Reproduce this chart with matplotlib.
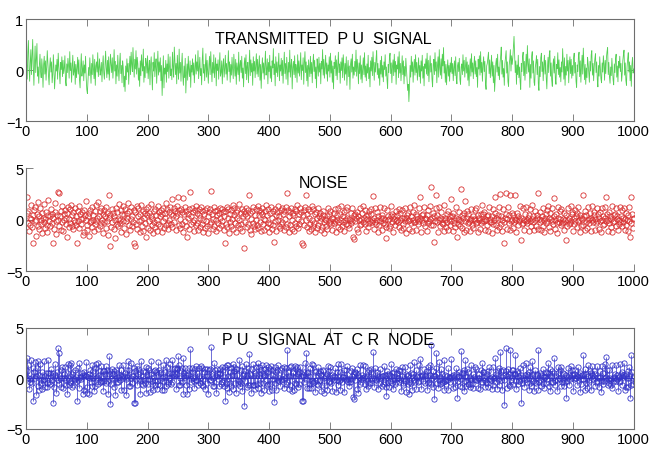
import numpy as np
import matplotlib
matplotlib.use("Agg")
import matplotlib.pyplot as plt

# transmitted PU signal, in hundredths (samples 1..1000)
signal_centi = [
    12, -18, 35, 58, 4, -22, 16, 40, -9, 25, 60, 8, -30, 14, 47, -5, 20, 52, -12, 6,
    -26, 9, 31, -3, -15, 22, 2, -34, 11, 27, -8, 18, -20, 5, 38, 13, -11, -29, 7, 24,
    -4, 16, -25, -9, 30, 3, -37, -14, 10, -2, 21, -18, 33, 8, -6, -27, 15, 1, 26, -13,
    19, -7, 4, 28, -22, -31, 12, -5, 23, 9, -16, 36, -1, 14, -24, 6, 29, -10, -3, 17,
    -28, 11, -15, 3, 25, -8, 20, -19, -35, 7, 32, -12, 1, 18, -21, 10, -6, 27, -14, -38,
    -46, -20, 5, -11, 24, -3, -26, 13, -9, 30, 2, -17, 21, -30, 8, 16, -4, 34, -13, 6,
    22, -10, -1, 15, -23, 9, 28, -6, -18, 12, 37, 4, -15, 19, -8, 26, -20, 3, 31, 11,
    -5, 24, -16, 7, 40, -2, 17, -27, 10, -12, 29, 1, -21, 14, 33, -7, 9, -25, 18, 5,
    -33, -12, -42, 8, -19, 22, -4, 13, -28, 6, 27, -9, 35, 11, -3, 44, 16, -14, 21, 2,
    38, -8, 25, 12, -20, 4, -32, 18, -11, 30, 9, -2, 41, -24, 7, -15, 23, 14, -6, 28,
    -17, 3, 19, -29, 11, 26, -7, -39, 15, -2, 34, -13, 8, 22, -26, 5, 37, -10, 16, -4,
    24, -21, 9, -50, -13, 28, -35, 4, -8, 19, -24, 12, -3, 31, -16, 7, 26, -11, 2, -19,
    35, 6, -14, 45, 20, -9, 13, -27, 29, 3, -18, 41, -6, 15, -22, 10, 33, -12, -30, 8,
    -15, 23, -45, -7, 12, -20, 27, 1, -13, 18, -34, 9, -4, 22, -10, 14, -25, 5, 30, -8,
    16, -2, 38, -17, 6, 25, -11, 3, -29, 20, 43, -6, 11, -21, 7, 32, -14, 19, -3, -26,
    10, 27, -9, 36, 2, -23, 15, -6, 30, -15, 4, 24, -31, 12, -1, 20, -18, 8, 34, -12,
    -5, 18, -27, 9, 22, -14, 3, 29, -8, 13, -20, 6, 38, -3, 16, -24, 11, -10, 25, 1,
    -17, 31, 7, -12, 21, -28, 14, 2, -9, 35, -22, 10, 19, -5, 27, -16, 4, -33, 12, 24,
    -7, 30, -19, 8, 15, -25, 5, 39, -11, 20, -4, 13, -30, 26, -2, 17, -15, 9, 32, -8,
    21, -13, 6, 28, -20, 11, -36, 3, 24, -6, 14, -18, 9, 37, -10, 1, 22, -27, 15, -3,
    29, -16, 8, -23, 18, 4, 42, -9, 12, -31, 26, -5, 16, -13, 7, 33, -21, 10, -2, 23,
    -11, 19, -26, 6, 35, -7, 13, -18, 25, 2, -29, 15, -4, 39, -14, 9, 21, -37, 5, 17,
    -9, 28, -15, 11, 3, -24, 30, -6, 18, -12, 7, 34, -19, 10, -1, 24, -28, 14, 36, -5,
    16, -21, 9, -32, 20, 4, -13, 27, -7, 15, -25, 11, 31, -3, 19, -17, 6, -35, 22, 8,
    -12, 25, -4, 13, -27, 17, 2, 40, -10, 21, -16, 5, 29, -8, 14, -22, 10, -2, 26, -14,
    33, -6, 18, -24, 8, -37, 15, 3, 28, -11, 20, -19, 7, 35, -5, 12, -26, 16, -1, 24,
    -15, 30, 9, -20, 13, -8, 26, -30, 4, 19, -13, 8, -38, 11, 22, -4, 31, -16, 6, -10,
    17, -3, 39, -12, 21, 5, -27, 14, -7, 28, -18, 10, -25, 3, 24, -9, 34, -14, 8, -21,
    12, -6, 29, -17, 5, -33, 18, -2, 25, -11, 36, 7, -20, 15, -4, 22, 38, -9, 13, -16,
    3, -30, 19, -8, 27, -14, 9, -23, 16, 1, 30, -12, 6, -19, -36, 11, -5, 24, 33, -7,
    14, -25, 8, 20, -11, 31, -4, 17, -28, 10, 2, 26, -15, 36, -6, 13, -21, 5, 28, -9,
    18, -27, 7, -12, 23, 1, -19, -40, -28, -62, -35, 9, -14, 27, -3, 16, -24, 6, 21, -10,
    30, -5, 15, -20, 4, 24, -13, 9, -26, 18, -2, 29, -16, 7, -31, 12, 3, 22, -8, 33,
    -11, 19, -23, 6, 28, -4, 13, -18, -33, 10, 21, -9, 34, -2, 16, -25, 8, 26, -14, 40,
    5, -10, 22, -17, 31, 8, 44, -6, 17, -24, 11, -29, 3, 20, -12, 9, -22, 14, -4, 25,
    -7, 13, -21, 4, 18, -11, 26, -16, -27, 8, 15, -3, 23, -19, -28, 6, 12, -9, 30, -2,
    19, -14, 7, 25, -6, 16, -20, 10, -31, 3, 22, -12, 32, -4, 14, -17, 9, 27, -8, 18,
    -13, 5, -34, 21, 2, 28, -10, 36, -5, 15, -22, 11, 26, -3, 17, -26, -38, 8, 13, 24,
    35, -7, 20, -15, 4, 29, -12, 16, -25, 9, -42, -18, 12, 23, -4, 31, -11, 6, -19, 14,
    27, 45, -8, 19, -14, 3, -30, 12, 25, 38, -6, 16, -23, -32, 9, 21, 40, -2, 28, 11,
    24, 47, 66, 30, -5, 18, -28, 10, -9, 29, -15, 6, -22, -38, 13, -3, 26, 35, -11, 17,
    -20, 8, 31, -7, 48, 14, -4, 22, -34, 11, -16, 27, 36, -6, 18, -24, -30, 5, 15, 28,
    -9, 21, -27, -40, 7, -13, 24, 33, -3, 16, -21, 10, 29, -8, 19, -15, -37, 4, 25, -5,
    30, 38, -12, 14, -20, -32, 8, 22, -6, 27, -17, -28, 11, 3, 34, -9, 20, -14, 5, -23,
    16, -4, 42, 12, -18, 24, -30, 7, -10, 31, -2, 19, -25, 13, 26, -7, 21, -16, 9, -11,
    23, 33, -6, 15, -22, -34, 10, -3, 27, 35, -13, 18, -24, 6, 29, -8, 43, 14, -19, 11,
    -28, 4, -15, 25, 12, -6, -24, 17, -2, 30, 38, -10, 13, -21, 7, 22, 32, -5, 16, -18,
    -33, 9, -12, 26, 3, -17, -25, 14, -4, 28, 11, -20, 19, -7, 24, 36, 44, -9, 15, -13,
    -26, 6, -11, 23, 2, -19, -29, 12, -5, 21, 31, -14, 8, -23, 17, 4, 27, -3, 13, -22,
    -7, 18, 30, 39, -10, 14, -20, -30, 6, 22, 34, -4, 16, -21, 9, -32, 11, 25, -6, 2,
]

# channel noise, in tenths (samples 1..1000)
noise_deci = [
    6, 22, -3, 8, -11, 2, -5, 14, 1, -7, 4, -23, 9, -1, 12, -16, 0, 5, -6, 17,
    -9, 3, 11, -4, 0, -13, 6, 2, -2, 15, -8, 1, 7, -5, -12, 4, 19, -1, -6, 3,
    10, -3, 5, -23, 2, -9, 7, 16, -1, -14, 4, 0, 27, -6, 26, 3, -10, 8, -2, 13,
    -11, 5, 0, 9, -4, 2, -17, 6, 12, -7, 1, 10, -3, 14, -6, 4, -9, 7, 0, -2,
    11, -5, 3, -23, 8, -1, 13, -8, 5, 1, -4, 7, -15, 2, 9, -12, 4, 0, 18, -5,
    -10, 3, -16, 6, -2, 9, -1, 12, -7, 4, 0, -11, 8, -4, 14, -1, 2, -9, 17, 3,
    -6, 8, -3, 11, 0, -13, 5, -2, 9, 3, -8, 12, -1, 6, -15, 2, 24, -26, 4, -7,
    10, -2, 6, -9, 3, 0, -18, 11, -4, 7, -6, 1, 15, -3, 0, 9, -12, 5, -1, 13,
    -8, 4, 10, -1, -14, 6, 2, 16, -5, 8, -10, 1, 12, -6, 3, -2, 9, -23, -26, 7,
    -4, 13, -9, 3, 11, -1, -12, 5, 0, 14, -6, 8, -11, 2, 6, -3, -17, 10, 4, -8,
    12, -1, 6, -10, 3, 15, -5, 1, -13, 8, -2, 10, -7, 4, 0, -11, 13, -4, 7, -6,
    3, 9, -12, 5, -1, 11, -8, 6, 2, 16, -5, 10, -3, -9, 7, 0, 12, -4, 5, 20,
    -7, 4, 11, -2, 8, -10, 3, 13, 6, 22, -5, 9, 1, -8, 10, -4, 7, 21, -12, 5,
    12, -1, 8, -6, -17, 5, 2, 10, -9, 27, 3, -4, 11, -2, 7, -11, 0, 9, -5, 13,
    -3, 6, -10, 4, 10, -7, 2, 12, -4, 8, -12, 0, 5, -8, 9, -1, 11, -6, 3, -13,
    7, -4, 10, 28, -2, 5, -9, 1, 12, -6, 8, 0, -11, 4, 9, -3, 6, -8, 2, 11,
    -5, 10, -1, 7, -10, 3, -23, 8, -4, 12, -7, 2, 10, -13, 5, -2, 9, -6, 1, 14,
    -9, 4, 11, -3, 7, -12, 2, 9, -5, 15, 0, -8, 6, -4, 10, -11, 3, 8, -28, 5,
    -2, 11, -7, 3, 9, -4, 24, -10, 6, 1, -14, 8, -3, 12, -6, 4, -9, 10, 0, -5,
    13, -8, 4, 9, -2, 7, -11, 5, 11, -4, 1, -10, 8, 0, 14, -7, 4, -3, 10, -12,
    6, -4, 12, -9, 2, 8, -5, -22, 10, -1, 4, -11, 7, 0, 13, -6, 3, -8, 9, -4,
    11, -2, 5, -10, 8, 1, -7, 12, 26, -4, 9, -12, 3, 7, -5, 11, 0, -9, 6, 4,
    -11, 10, -3, 8, -6, 14, 1, -8, 5, -4, 11, -1, 7, -23, 4, -25, 9, -5, 12, 0,
    24, -7, 5, 10, -11, 2, -4, 8, -9, 13, 0, -6, 10, -3, 5, -12, 7, 2, -8, 11,
    -5, 3, -1, 6, -10, 2, -7, 4, 8, -2, -13, 1, 0, -6, 3, -9, 11, -3, 5, -1,
    8, -4, 2, -10, 1, 6, -3, 10, -1, -12, 4, 0, -7, 11, -2, 5, -9, 13, 0, -6,
    3, -2, 7, -11, 0, 9, -4, 2, 12, -5, 1, -8, 0, 6, -3, 11, -1, -17, 4, -19,
    5, -1, 2, -9, 7, 3, -12, 0, -5, 11, 1, -4, 6, 13, -2, 2, 9, -4, -11, 3,
    1, -7, 4, -3, 8, -1, 5, 10, -2, 0, 23, -9, 2, -2, 11, -4, 0, 7, -12, 3,
    -5, 12, -1, 2, -10, 4, 2, -3, 11, -4, 0, -7, -18, 9, 0, 3, -8, 1, -6, 3,
    13, -2, 5, -12, 1, 3, -5, 8, -1, 4, 0, -2, 10, -7, 0, 6, -10, 2, 9, -4,
    -8, 2, 11, -1, 2, -13, 4, -1, 6, -9, 0, 12, -3, 3, -11, 0, 7, -2, 14, -2,
    5, -10, 1, 3, -4, 11, -1, 2, 22, -12, 4, 0, 5, -3, 12, -6, 2, 1, -11, 4,
    -3, 9, -1, 13, 1, -5, 32, 2, -5, 6, -22, 3, -1, 11, 24, -2, 4, -12, 0, 12,
    -6, 2, 7, -3, 1, -4, 14, -11, 2, 0, -7, 5, -2, 8, -10, 1, 3, -5, 20, -1,
    3, -11, 6, -3, 0, -7, 2, 12, -17, 1, -4, 7, 0, -6, 30, -1, 4, -8, 2, -12,
    6, -1, 18, -10, 2, 8, -3, 5, -2, 0, -11, 1, 10, -5, 3, -8, 1, 9, 0, -3,
    11, -2, 4, -12, 0, 2, -9, 5, -3, 14, -1, 5, -1, 7, -10, 1, 0, -5, 3, -11,
    4, 12, -2, 1, -2, -13, 3, 10, -4, 0, 6, 22, -5, 2, -10, 4, 1, -7, 12, 25,
    -4, 3, -11, 0, 10, -2, -23, 2, 5, 26, -9, 1, 12, -3, 4, -10, 24, -1, 6, 0,
    -8, 4, -2, 1, 24, -12, 0, 6, -5, 3, -1, 1, 13, -20, 2, -4, 11, -3, 0, -10,
    5, -1, 12, -3, 0, 2, -11, 4, -1, 10, -6, 1, 14, -2, 3, -10, 0, 8, -6, 2,
    4, 26, -9, 1, -2, 7, -10, 0, 3, -6, 11, 0, -12, 2, 5, -3, 9, -1, 13, -7,
    2, 6, -11, 1, -1, 11, -4, 3, 21, -9, 0, 5, -3, -13, 2, 12, -2, 1, 8, -5,
    10, -3, 1, -2, 6, -10, 0, -20, 4, -6, 11, 0, -4, 2, -3, 13, -1, 5, 7, -11,
    2, -4, 9, -1, 3, 6, -7, 12, -1, 0, -12, 4, 2, -6, 1, 24, -5, 3, -10, 8,
    -2, 4, -8, 0, 12, -3, 1, 6, -11, 2, 0, 13, -2, 4, 7, -10, 1, -3, 11, -1,
    5, -9, 2, -1, 7, -12, 0, 11, -5, 3, -4, 2, 12, 22, -1, 5, -11, 0, 7, -3,
    3, -7, 1, -12, 13, -2, 4, -1, 5, 11, -6, 1, 3, -10, 0, -4, 12, -2, 3, 9,
    -6, 2, -2, 11, -10, 1, 6, -5, 0, -11, 4, 12, -1, -17, 22, -3, 5, -8, 1, 2,
]

titles = ["TRANSMITTED  P U  SIGNAL", "NOISE", "P U  SIGNAL  AT  C R  NODE"]
xticks = [0, 100, 200, 300, 400, 500, 600, 700, 800, 900, 1000]

transmitted = np.array(signal_centi) / 100.0
noise = np.array(noise_deci) / 10.0
n = min(len(transmitted), len(noise))
transmitted = transmitted[:n]
noise = noise[:n]
received = transmitted + noise  # PU signal at CR node = signal + noise
t = np.arange(1, n + 1)

plt.rcParams['font.family'] = ['Liberation Sans', 'DejaVu Sans']

fig = plt.figure(figsize=(6.5, 4.52), dpi=100)
ax1 = fig.add_axes([0.04, 0.730, 0.935, 0.2257])
ax2 = fig.add_axes([0.04, 0.398, 0.935, 0.228])
ax3 = fig.add_axes([0.04, 0.0487, 0.935, 0.2235])

axis_gray = '#6e6e6e'


def style_axis(ax, ylim, yticks, boxed=True):
    ax.set_xlim(0, 1000)
    ax.set_ylim(*ylim)
    ax.set_xticks(xticks)
    ax.set_yticks(yticks)
    for s in ax.spines.values():
        s.set_color(axis_gray)
        s.set_linewidth(0.8)
    if not boxed:
        ax.spines['top'].set_visible(False)
        ax.spines['right'].set_visible(False)
    ax.tick_params(direction='in', length=5, width=0.6, color=axis_gray,
                   top=boxed, right=boxed, pad=2, labelsize=10.5)


# transmitted signal
ax1.plot(t, transmitted, color='#55d055', linewidth=0.6)
style_axis(ax1, (-1, 1), [-1, 0, 1])
ax1.text(0.49, 0.81, titles[0], transform=ax1.transAxes, ha='center', va='center',
         fontsize=11.5)

# noise
ax2.plot(t, noise, linestyle='none', marker='o', markersize=3.8,
         markerfacecolor='none', markeredgecolor='#d83030', markeredgewidth=0.6)
style_axis(ax2, (-5, 5), [-5, 0, 5], boxed=False)
ax2.text(0.49, 0.86, titles[1], transform=ax2.transAxes, ha='center', va='center',
         fontsize=11.5)

# received signal (stem)
markers, stems, base = ax3.stem(t, received)
plt.setp(stems, color='#3535c8', linewidth=0.5)
plt.setp(markers, marker='o', markersize=3.8, markerfacecolor='none',
         markeredgecolor='#3535c8', markeredgewidth=0.6)
plt.setp(base, color='#3535c8', linewidth=0.8)
style_axis(ax3, (-5, 5), [-5, 0, 5])
ax3.text(0.497, 0.89, titles[2], transform=ax3.transAxes, ha='center', va='center',
         fontsize=11.5)

fig.savefig('out.png', dpi=100)
